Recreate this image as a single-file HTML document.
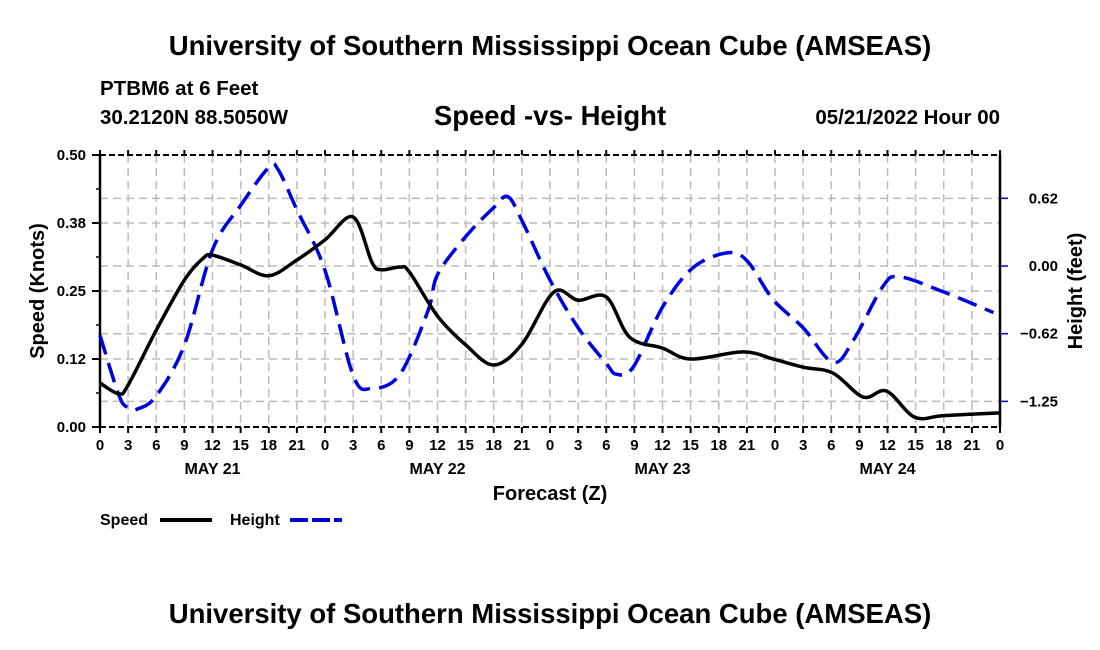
<!DOCTYPE html>
<html><head><meta charset="utf-8"><style>
body{margin:0;background:#fff;}
svg{display:block;font-family:"Liberation Sans",sans-serif;font-weight:bold;}
</style></head><body>
<svg id="chart" width="1100" height="650" viewBox="0 0 1100 650">
<text x="550" y="55" font-size="27.5" text-anchor="middle">University of Southern Mississippi Ocean Cube (AMSEAS)</text>
<text x="100" y="95" font-size="20.5">PTBM6 at 6 Feet</text>
<text x="100" y="124" font-size="20.5">30.2120N  88.5050W</text>
<text x="550" y="125" font-size="27.5" text-anchor="middle">Speed -vs- Height</text>
<text x="1000" y="124" font-size="20.5" text-anchor="end">05/21/2022 Hour 00</text>
<g id="grid"></g>
<g id="axes"></g>
<g id="series"></g>
<text x="550" y="500" font-size="20" text-anchor="middle">Forecast (Z)</text>
<text transform="translate(44,291) rotate(-90)" font-size="20" text-anchor="middle">Speed (Knots)</text>
<text transform="translate(1082,291) rotate(-90)" font-size="20" text-anchor="middle">Height (feet)</text>
<g>
<text x="100" y="525" font-size="16">Speed</text>
<line x1="160" y1="520" x2="212" y2="520" stroke="#000" stroke-width="4"/>
<text x="230" y="525" font-size="16">Height</text>
<line x1="290" y1="520" x2="342" y2="520" stroke="#0000dd" stroke-width="4" stroke-dasharray="18,4"/>
</g>
<text x="550" y="623" font-size="27.5" text-anchor="middle">University of Southern Mississippi Ocean Cube (AMSEAS)</text>
</svg>
<script>
const speedHours=[0,2,3,6,9,11,12,15,18,21,24,27,29,30,32,33,36,39,42,45,48.4,51,54,56.5,60,63,68.6,72,75,78.2,81.4,83.9,86.9,90,96];
const speedValues=[0.081,0.061,0.077,0.178,0.27,0.31,0.316,0.298,0.278,0.307,0.344,0.386,0.303,0.289,0.294,0.285,0.204,0.151,0.114,0.152,0.248,0.233,0.239,0.165,0.145,0.125,0.138,0.124,0.110,0.099,0.055,0.066,0.018,0.021,0.026];
const heightHours=[0,2,3,4,6,9,12,15,18,19,21,24,27,29,32,35,36,39,42,43.5,45,48,51,54,55.1,56.9,60,63.2,66.8,69,71.8,75,78.2,80.4,83.5,85.3,90,95.3];
const heightValues=[-0.64,-1.19,-1.31,-1.32,-1.2,-0.73,0.15,0.56,0.91,0.89,0.52,-0.04,-1.01,-1.13,-1.0,-0.41,-0.08,0.27,0.54,0.64,0.42,-0.13,-0.57,-0.90,-1.0,-0.93,-0.38,-0.02,0.12,0.05,-0.31,-0.57,-0.89,-0.68,-0.19,-0.10,-0.24,-0.43];
const leftTicks=[0,0.125,0.25,0.375,0.5];
const leftTickLabels=["0.00","0.12","0.25","0.38","0.50"];
const rightTicks=[0.625,0,-0.625,-1.25];
const rightTickLabels=["0.62","0.00","\u22120.62","\u22121.25"];
const dayLabels=["MAY 21","MAY 22","MAY 23","MAY 24"];

const X0=100,X1=1000,Y0=427,Y1=155;
const xs=h=>X0+h*(X1-X0)/96;
const yL=v=>Y0-v*(Y0-Y1)/0.5;
const yR=v=>266-v*108.3;
const NS="http://www.w3.org/2000/svg";
function mk(tag,attrs,parent){const e=document.createElementNS(NS,tag);for(const k in attrs)e.setAttribute(k,attrs[k]);parent.appendChild(e);return e;}
const grid=document.getElementById('grid'),axes=document.getElementById('axes'),series=document.getElementById('series');
for(let h=0;h<=96;h+=3){
  const x=xs(h);
  if(h>0&&h<96){const l=mk('line',{x1:x,y1:Y1,x2:x,y2:Y0,stroke:'#bbb','stroke-width':1.5,'stroke-dasharray':'8,5'},grid);
  }
  const t=mk('line',{x1:x,y1:Y0,x2:x,y2:Y0+6,stroke:'#000','stroke-width':2},axes);
  
  const t2=mk('line',{x1:x,y1:Y1,x2:x,y2:Y1-5,stroke:'#000','stroke-width':2},axes);
  
  const tx=mk('text',{x:x,y:450,'font-size':15,'text-anchor':'middle'},axes);tx.textContent=String(h%24);
  
}
dayLabels.forEach((d,i)=>{const t=mk('text',{x:xs(12+24*i),y:474,'font-size':16,'text-anchor':'middle'},axes);t.textContent=d;
});
leftTicks.forEach((v,i)=>{const y=yL(v);
 if(i>0&&i<leftTicks.length-1){const l=mk('line',{x1:X0,y1:y,x2:X1,y2:y,stroke:'#bbb','stroke-width':1.5,'stroke-dasharray':'8,5'},grid);
 }
 const t=mk('line',{x1:X0-8,y1:y,x2:X0,y2:y,stroke:'#000','stroke-width':2},axes);
 const tx=mk('text',{x:X0-14,y:y+5,'font-size':15,'text-anchor':'end'},axes);tx.textContent=leftTickLabels[i];
 });
for(let k=0;k<4;k++){const y=yL(0.0625+0.125*k);const t=mk('line',{x1:X0-4,y1:y,x2:X0,y2:y,stroke:'#000','stroke-width':1.5},axes);
}
rightTicks.forEach((v,i)=>{const y=yR(v);
 const l=mk('line',{x1:X0,y1:y,x2:X1,y2:y,stroke:'#bbb','stroke-width':1.5,'stroke-dasharray':'8,5'},grid);
 
 const t=mk('line',{x1:X1,y1:y,x2:X1+8,y2:y,stroke:'#0000dd','stroke-width':1.5},axes);
 const tx=mk('text',{x:1058,y:y+5,'font-size':15,'text-anchor':'end'},axes);tx.textContent=rightTickLabels[i];
 });
[[X0,Y1,X1,Y1,'6,3'],[X0,Y0,X1,Y0,'6,3']].forEach(b=>{const l=mk('line',{x1:b[0],y1:b[1],x2:b[2],y2:b[3],stroke:'#000','stroke-width':2,'stroke-dasharray':b[4]},axes);
});
const lb=mk('line',{x1:X0,y1:Y1,x2:X0,y2:Y0,stroke:'#000','stroke-width':2.5},axes);
const rb=mk('line',{x1:X1,y1:Y1,x2:X1,y2:Y0,stroke:'#000','stroke-width':2.5},axes);
function smooth(pts){let d='M'+pts[0][0]+','+pts[0][1];
 for(let i=0;i<pts.length-1;i++){const p0=pts[i-1]||pts[i],p1=pts[i],p2=pts[i+1],p3=pts[i+2]||p2;
 d+=' C'+(p1[0]+(p2[0]-p0[0])/6)+','+(p1[1]+(p2[1]-p0[1])/6)+' '+(p2[0]-(p3[0]-p1[0])/6)+','+(p2[1]-(p3[1]-p1[1])/6)+' '+p2[0]+','+p2[1];}
 return d;}
const hp=mk('path',{d:smooth(heightHours.map((h,i)=>[xs(h),yR(heightValues[i])])),fill:'none',stroke:'#0000dd','stroke-width':3.5,'stroke-dasharray':'20,9'},series);

const sp=mk('path',{d:smooth(speedHours.map((h,i)=>[xs(h),yL(speedValues[i])])),fill:'none',stroke:'#000','stroke-width':3.5},series);

</script>
</body></html>
